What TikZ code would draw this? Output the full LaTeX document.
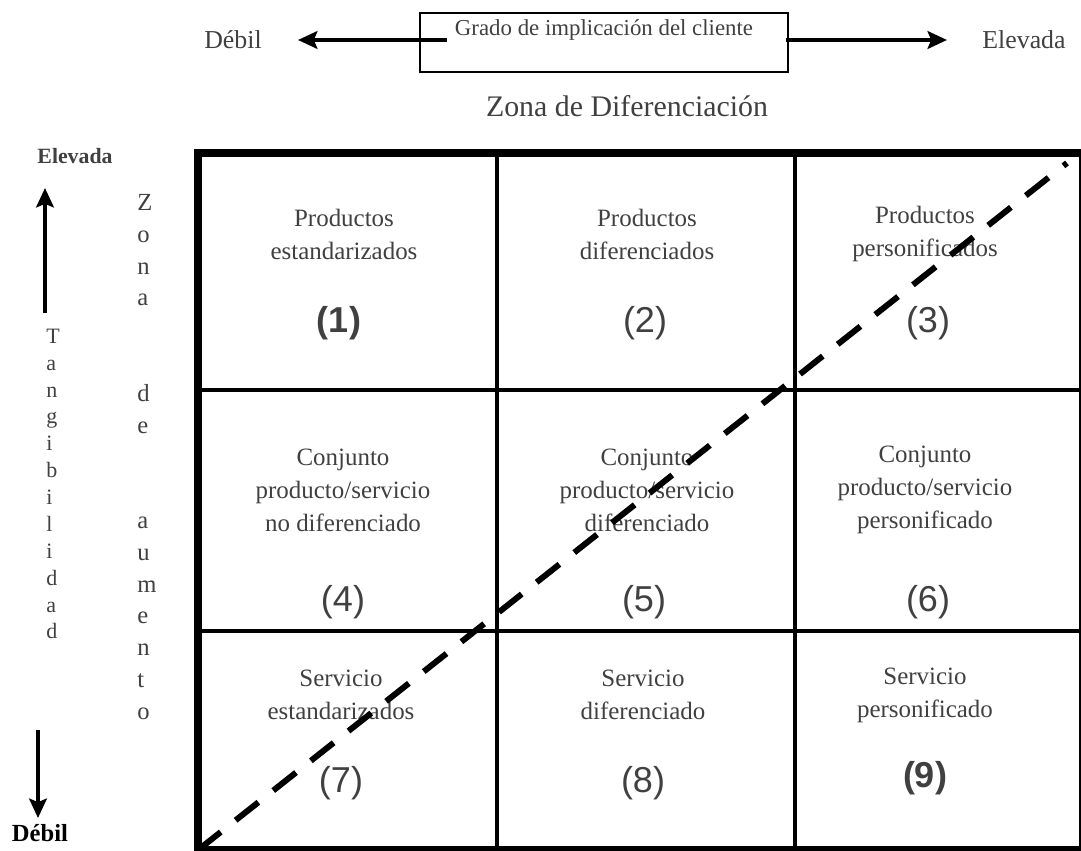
\documentclass[tikz,border=0pt]{standalone}
\usepackage{fontspec}
\setmainfont{Liberation Serif}
\newfontfamily\numfont{Liberation Sans}
\usetikzlibrary{arrows.meta}
\definecolor{txtgray}{HTML}{404040}

\begin{document}
\begin{tikzpicture}[x=0.02cm,y=-0.02cm,
    every node/.style={text=txtgray},
    celltext/.style={align=center,font=\fontsize{14.2}{18.8}\selectfont},
    cellnum/.style={font=\numfont\fontsize{20.5}{24}\selectfont},
    boldnum/.style={font=\numfont\bfseries\fontsize{20.5}{24}\selectfont},
    axarrow/.style={line width=2.8pt,-{Stealth[length=11pt,width=10pt,inset=2pt]}},
    gridline/.style={line width=2.55pt},
    vstack/.style={align=left,inner sep=0pt,anchor=west}]
  \useasboundingbox (0,0) rectangle (1081,851);

  % top axis: customer involvement
  \draw[line width=0.6pt] (420,13) rectangle (788,72);
  \node (grado) at (604,30) {\fontsize{13}{15}\selectfont Grado de implicación del cliente};
  \node[font=\fontsize{14.7}{17}\selectfont] (topdebil) at (233,40) {Débil};
  \node[font=\fontsize{14.7}{17}\selectfont] (topelev) at (1024,40) {Elevada};
  \coordinate (lstart) at (447,40);
  \coordinate (ltip) at (298,40);
  \coordinate (rstart) at (786,40);
  \coordinate (rtip) at (947,40);
  \draw[axarrow] (lstart) -- (ltip);
  \draw[axarrow] (rstart) -- (rtip);
  \node[font=\fontsize{17}{20}\selectfont] (zonadif) at (627,106) {Zona de Diferenciación};

  % left axis: tangibility
  \node[font=\bfseries\fontsize{12.4}{15}\selectfont] (leftelev) at (75,156) {Elevada};
  \node[text=black,font=\bfseries\fontsize{14}{17}\selectfont] (leftdebil) at (40,833) {Débil};
  \coordinate (ustart) at (45,313);
  \coordinate (utip) at (45,188);
  \coordinate (dstart) at (38,730);
  \coordinate (dtip) at (38,818);
  \draw[axarrow] (ustart) -- (utip);
  \draw[axarrow] (dstart) -- (dtip);
  \node[vstack,font=\fontsize{12.5}{15.3}\selectfont] (tang) at (46,484)
    {T\\a\\n\\g\\i\\b\\i\\l\\i\\d\\a\\d};
  \node[vstack,font=\fontsize{14}{18.1}\selectfont] (aumento) at (137,457)
    {Z\\o\\n\\a\\\mbox{}\\\mbox{}\\d\\e\\\mbox{}\\\mbox{}\\a\\u\\m\\e\\n\\t\\o};

  % grid
  \draw[line width=4pt] (198,153) rectangle (1082,850);
  \draw[gridline] (497,153) -- (497,850);
  \draw[gridline] (795,153) -- (795,850);
  \draw[gridline] (198,390) -- (1082,390);
  \draw[gridline] (198,631) -- (1082,631);

  % cells
  \node[celltext] (c1) at (344,234) {Productos\\estandarizados};
  \node[celltext] (c2) at (647,234) {Productos\\diferenciados};
  \node[celltext] (c3) at (925,234) {Productos\\personificados};
  \node[boldnum] (n1) at (339,323) {(1)};
  \node[cellnum] (n2) at (645,323) {(2)};
  \node[cellnum] (n3) at (928,323) {(3)};

  \node[celltext] (c4) at (343,490) {Conjunto\\producto/servicio\\no diferenciado};
  \node[celltext] (c5) at (647,490) {Conjunto\\producto/servicio\\diferenciado};
  \node[celltext] (c6) at (925,490) {Conjunto\\producto/servicio\\personificado};
  \node[cellnum] (n4) at (343,602) {(4)};
  \node[cellnum] (n5) at (644,602) {(5)};
  \node[cellnum] (n6) at (928,602) {(6)};

  \node[celltext] (c7) at (341,695) {Servicio\\estandarizados};
  \node[celltext] (c8) at (643,695) {Servicio\\diferenciado};
  \node[celltext] (c9) at (925,695) {Servicio\\personificado};
  \node[cellnum] (n7) at (341,783) {(7)};
  \node[cellnum] (n8) at (643,783) {(8)};
  \node[boldnum] (n9) at (925,778) {(9)};

  % diagonal
  \coordinate (bl) at (198,850);
  \coordinate (tr) at (1067,163);
  \draw[line width=3.4pt,dash pattern=on 16.5pt off 10.8pt] (bl) -- (tr);
\end{tikzpicture}
\end{document}
